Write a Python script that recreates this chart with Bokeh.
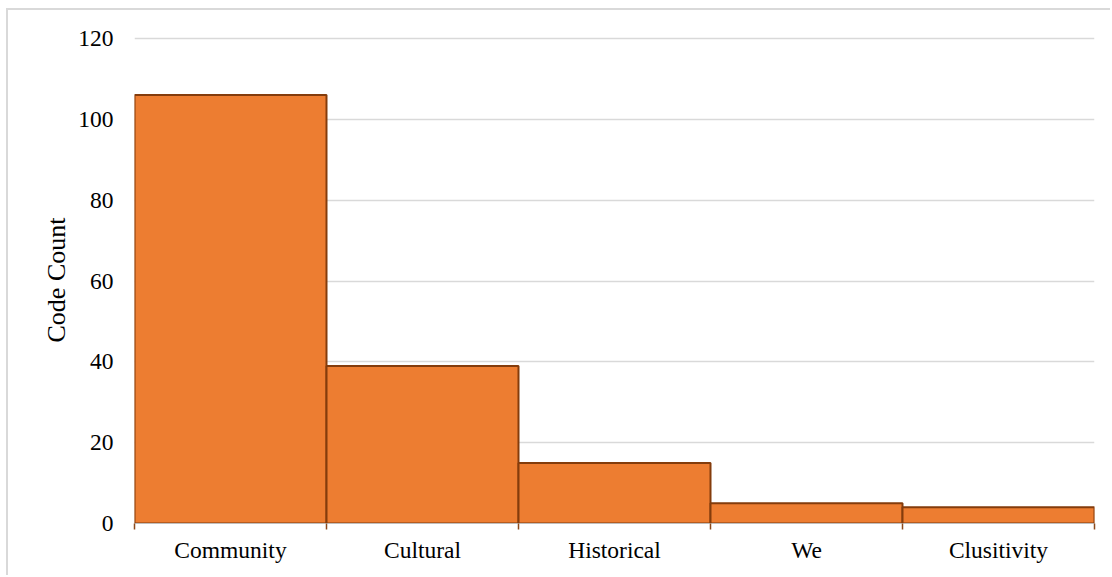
from bokeh.plotting import figure
from bokeh.models import FixedTicker, Range1d
from bokeh.embed import file_html
from bokeh.resources import INLINE

# Code counts per category
categories = ["Community", "Cultural", "Historical", "We", "Clusitivity"]
counts = [106, 39, 15, 5, 4]
y_ticks = [0, 20, 40, 60, 80, 100, 120]

FONT = "Liberation Serif"

p = figure(
    width=1104, height=567,
    x_range=Range1d(0, len(categories)), y_range=Range1d(0, 120.5),
    output_backend="svg", toolbar_location=None,
    min_border_left=126, min_border_right=18,
    min_border_top=26, min_border_bottom=54,
    styles={
        "margin-left": "6px", "margin-top": "8px",
        "border-left": "2px solid #d9d9d9", "border-top": "2px solid #d9d9d9",
    },
)
p.outline_line_color = None
p.background_fill_color = "white"
p.border_fill_color = "white"

# Bars sit side by side, one unit wide, centred on each category slot
centers = [i + 0.5 for i in range(len(categories))]
p.vbar(x=centers, top=counts, width=1.0, bottom=0,
       fill_color="#ED7D31", line_color="#843C0C", line_width=2)

# x axis: labels at slot centres, small tick marks at slot boundaries
xa = p.xaxis[0]
xa.ticker = FixedTicker(ticks=centers,
                        minor_ticks=list(range(len(categories) + 1)))
xa.major_label_overrides = {c: name for c, name in zip(centers, categories)}
xa.major_tick_line_color = None
xa.minor_tick_in = 0
xa.minor_tick_out = 6
xa.minor_tick_line_color = "#8C4A1C"
xa.minor_tick_line_width = 1.5
xa.axis_line_color = "#bfbfbf"
xa.major_label_standoff = 7
xa.major_label_text_font = FONT
xa.major_label_text_font_size = "23.5px"
xa.major_label_text_color = "#000000"

# y axis: plain numbers, no line or ticks
ya = p.yaxis[0]
ya.ticker = FixedTicker(ticks=y_ticks)
ya.axis_line_color = None
ya.major_tick_line_color = None
ya.minor_tick_line_color = None
ya.major_label_standoff = 15
ya.major_label_text_font = FONT
ya.major_label_text_font_size = "23.5px"
ya.major_label_text_color = "#000000"
ya.axis_label = "Code Count"
ya.axis_label_text_font = FONT
ya.axis_label_text_font_size = "26px"
ya.axis_label_text_font_style = "normal"
ya.axis_label_text_color = "#000000"
ya.axis_label_standoff = 4

p.xgrid.grid_line_color = None
p.ygrid.grid_line_color = "#d9d9d9"
p.ygrid.grid_line_width = 1.5

open("out.html", "w").write(file_html(p, INLINE))
